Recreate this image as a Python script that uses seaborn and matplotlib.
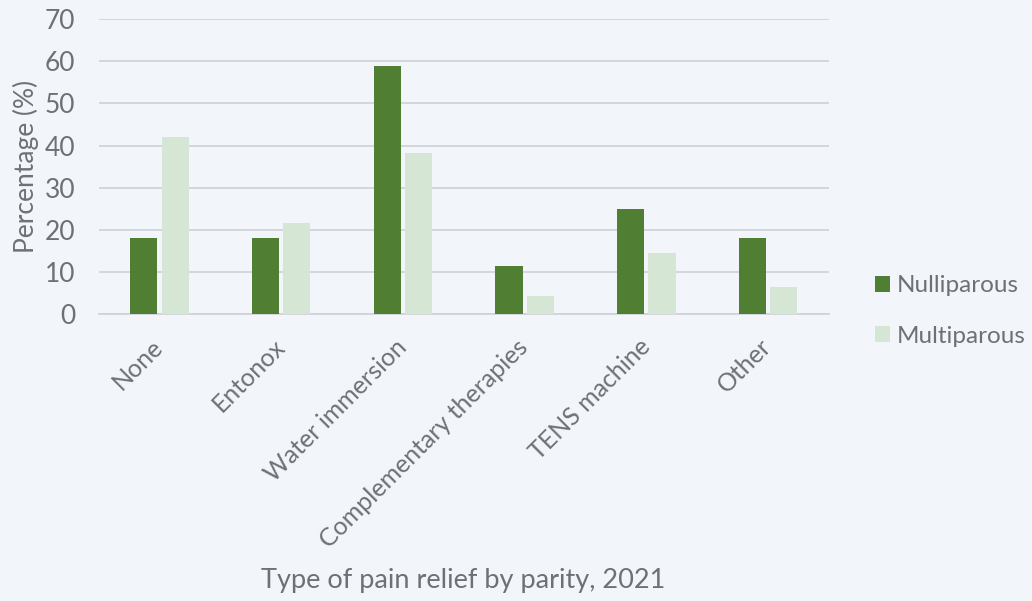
import matplotlib
matplotlib.use("Agg")
import matplotlib.pyplot as plt
import seaborn as sns
import pandas as pd

categories = ["None", "Entonox", "Water immersion", "Complementary therapies", "TENS machine", "Other"]
nulliparous = [18.1, 18.1, 59.0, 11.3, 24.9, 18.1]
multiparous = [42.0, 21.5, 38.2, 4.3, 14.6, 6.3]
series_names = ["Nulliparous", "Multiparous"]
yticks = [0, 10, 20, 30, 40, 50, 60, 70]

df = pd.DataFrame({
    "category": categories * 2,
    "value": nulliparous + multiparous,
    "series": [series_names[0]] * len(categories) + [series_names[1]] * len(categories),
})

bg = "#F2F6FB"
text_c = "#6E7075"
grid_c = "#D0D3D9"
colors = ["#507E32", "#D6E6D4"]

sns.set_theme(style="white")
plt.rcParams["font.family"] = ["Lato", "DejaVu Sans"]

fig = plt.figure(figsize=(10.32, 6.01), dpi=100, facecolor=bg)
ax = fig.add_axes([0.0956, 0.4775, 0.7075, 0.4905])
ax.set_facecolor(bg)

sns.barplot(data=df, x="category", y="value", hue="series", palette=colors,
            width=0.515, gap=0.13, ax=ax, saturation=1, legend=True, zorder=3,
            linewidth=0)

ax.set_ylim(0, 70)
ax.set_xlim(-0.5, len(categories) - 0.5)
ax.set_yticks(yticks)
ax.yaxis.grid(True, color=grid_c, linewidth=1.3, zorder=0)
ax.set_axisbelow(True)
for s in ["top", "right", "left"]:
    ax.spines[s].set_visible(False)
ax.spines["bottom"].set_color(grid_c)
ax.spines["bottom"].set_linewidth(1.3)

ax.tick_params(axis="y", length=0, pad=17, labelsize=19, labelcolor=text_c)
ax.tick_params(axis="x", length=0, pad=21, labelsize=18, labelcolor=text_c)
for lbl in ax.get_xticklabels():
    lbl.set_rotation(45)
    lbl.set_ha("right")
    lbl.set_va("center")
    lbl.set_rotation_mode("anchor")

ax.set_xlabel("")
ax.set_ylabel("Percentage (%)", fontsize=19, color=text_c, labelpad=4)
fig.text(0.449, 0.034, "Type of pain relief by parity, 2021", ha="center", va="center",
         fontsize=19.5, color=text_c)

leg = ax.legend(loc="center left", bbox_to_anchor=(1.05, 0.01), frameon=False,
                fontsize=17.5, labelcolor=text_c, handlelength=0.6, handleheight=0.6,
                handletextpad=0.3, labelspacing=1.2, borderaxespad=0)

fig.savefig("out.png", dpi=100, facecolor=bg)
